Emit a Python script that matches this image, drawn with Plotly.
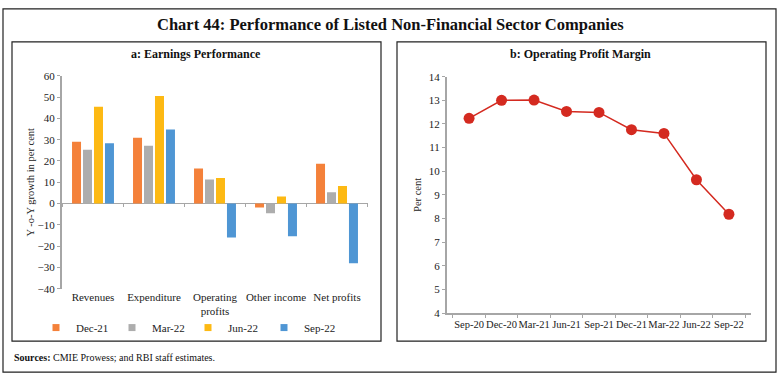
import plotly.graph_objects as go

# ---- data ----
categories = ["Revenues", "Expenditure", "Operating<br>profits", "Other income", "Net profits"]
quarters = ["Dec-21", "Mar-22", "Jun-22", "Sep-22"]
dec21 = [29.0, 30.9, 16.5, -1.8, 18.7]
mar22 = [25.3, 27.2, 11.3, -4.5, 5.3]
jun22 = [45.5, 50.5, 12.0, 3.3, 8.3]
sep22 = [28.3, 34.8, -15.9, -15.3, -28.0]
bar_colors = ["#F4813A", "#ADADAD", "#FDB913", "#4F96D4"]

margin_periods = ["Sep-20", "Dec-20", "Mar-21", "Jun-21", "Sep-21",
                  "Dec-21", "Mar-22", "Jun-22", "Sep-22"]
margin_values = [12.24, 13.0, 13.01, 12.53, 12.49, 11.76, 11.6, 9.64, 8.18]

W, H = 780, 382
FONT = "Liberation Serif"
AXC = "#A6A6A6"


def px(x):
    return x / W


def py(y):
    return 1 - y / H


fig = go.Figure()

series = [dec21, mar22, jun22, sep22]
for name, vals, col in zip(quarters, series, bar_colors):
    fig.add_trace(go.Bar(x=categories, y=vals, name=name, marker_color=col,
                         marker_line_width=0, showlegend=False,
                         xaxis="x", yaxis="y"))
    # legend proxy with small square marker
    fig.add_trace(go.Scatter(x=[None], y=[None], mode="markers", name=name,
                             marker=dict(symbol="square", size=7, color=col),
                             xaxis="x", yaxis="y", showlegend=True))

fig.add_trace(go.Scatter(x=margin_periods, y=margin_values, mode="lines+markers",
                         line=dict(color="#D42A20", width=1.5),
                         marker=dict(color="#D42A20", size=11),
                         showlegend=False, xaxis="x2", yaxis="y2"))

shapes = []
# outer and panel frames
for (x0, y0, x1, y1) in [(3, 3, 776, 378), (12, 37, 381, 346), (397, 37, 766, 346)]:
    shapes.append(dict(type="rect", xref="paper", yref="paper",
                       x0=px(x0), y0=py(y1), x1=px(x1), y1=py(y0),
                       line=dict(color="#222222", width=1.2)))
# category boundary ticks on the zero line of panel a
for i in range(len(categories) + 1):
    shapes.append(dict(type="line", xref="x", yref="y",
                       x0=i - 0.5, x1=i - 0.5, y0=0, y1=-1.6,
                       line=dict(color=AXC, width=1)))

annotations = [
    dict(text="<b>Chart 44: Performance of Listed Non-Financial Sector Companies</b>",
         x=px(390), y=py(19), xref="paper", yref="paper", showarrow=False,
         xanchor="center", yanchor="middle", font=dict(size=16.5, family=FONT, color="#111")),
    dict(text="<b>a: Earnings Performance</b>",
         x=px(196), y=py(50), xref="paper", yref="paper", showarrow=False,
         xanchor="center", yanchor="middle", font=dict(size=12, family=FONT, color="#111")),
    dict(text="<b>b: Operating Profit Margin</b>",
         x=px(580), y=py(50), xref="paper", yref="paper", showarrow=False,
         xanchor="center", yanchor="middle", font=dict(size=12, family=FONT, color="#111")),
    dict(text="<b>Sources:</b> CMIE Prowess; and RBI staff estimates.",
         x=px(12), y=py(363), xref="paper", yref="paper", showarrow=False,
         xanchor="left", yanchor="middle", font=dict(size=10, family=FONT, color="#111")),
]

tickfont = dict(size=11, family=FONT, color="#222")

fig.update_layout(
    width=W, height=H, autosize=False,
    margin=dict(l=0, r=0, t=0, b=0),
    paper_bgcolor="white", plot_bgcolor="white",
    font=dict(family=FONT, size=11, color="#222"),
    barmode="group", bargap=0.28, bargroupgap=0.18,
    shapes=shapes, annotations=annotations,
    legend=dict(orientation="h", x=px(36), y=py(332), xanchor="left", yanchor="middle",
                entrywidth=31, entrywidthmode="pixels", font=dict(size=11, family=FONT),
                itemwidth=30, bgcolor="rgba(0,0,0,0)", tracegroupgap=0),
    xaxis=dict(domain=[px(62), px(368)], anchor="y", type="category",
               showline=False, ticks="", showgrid=False, tickfont=tickfont),
    yaxis=dict(domain=[py(292), py(72)], anchor="x", range=[-40, 60], dtick=10,
               showline=True, linecolor=AXC, linewidth=2, ticks="outside", ticklen=3,
               tickcolor=AXC, showgrid=False, zeroline=True, zerolinecolor=AXC,
               zerolinewidth=1, tickfont=tickfont,
               title=dict(text="Y -o-Y growth in per cent", standoff=1,
                          font=dict(size=10.5, family=FONT))),
    xaxis2=dict(domain=[px(447), px(751)], anchor="y2", type="category",
                showline=True, linecolor=AXC, linewidth=2, ticks="outside", ticklen=3,
                tickcolor=AXC, tickson="boundaries", showgrid=False, tickangle=0,
                tickfont=dict(size=10.5, family=FONT, color="#222")),
    yaxis2=dict(domain=[py(317), py(73)], anchor="x2", range=[4, 14], dtick=1,
                showline=True, linecolor=AXC, linewidth=2, ticks="outside", ticklen=3,
                tickcolor=AXC, showgrid=False, zeroline=False, tickfont=tickfont,
                title=dict(text="Per cent", standoff=5, font=dict(size=10.5, family=FONT))),
)

fig.write_html("out.html", config={"displayModeBar": False},
               post_script="document.body.style.margin='0';")
